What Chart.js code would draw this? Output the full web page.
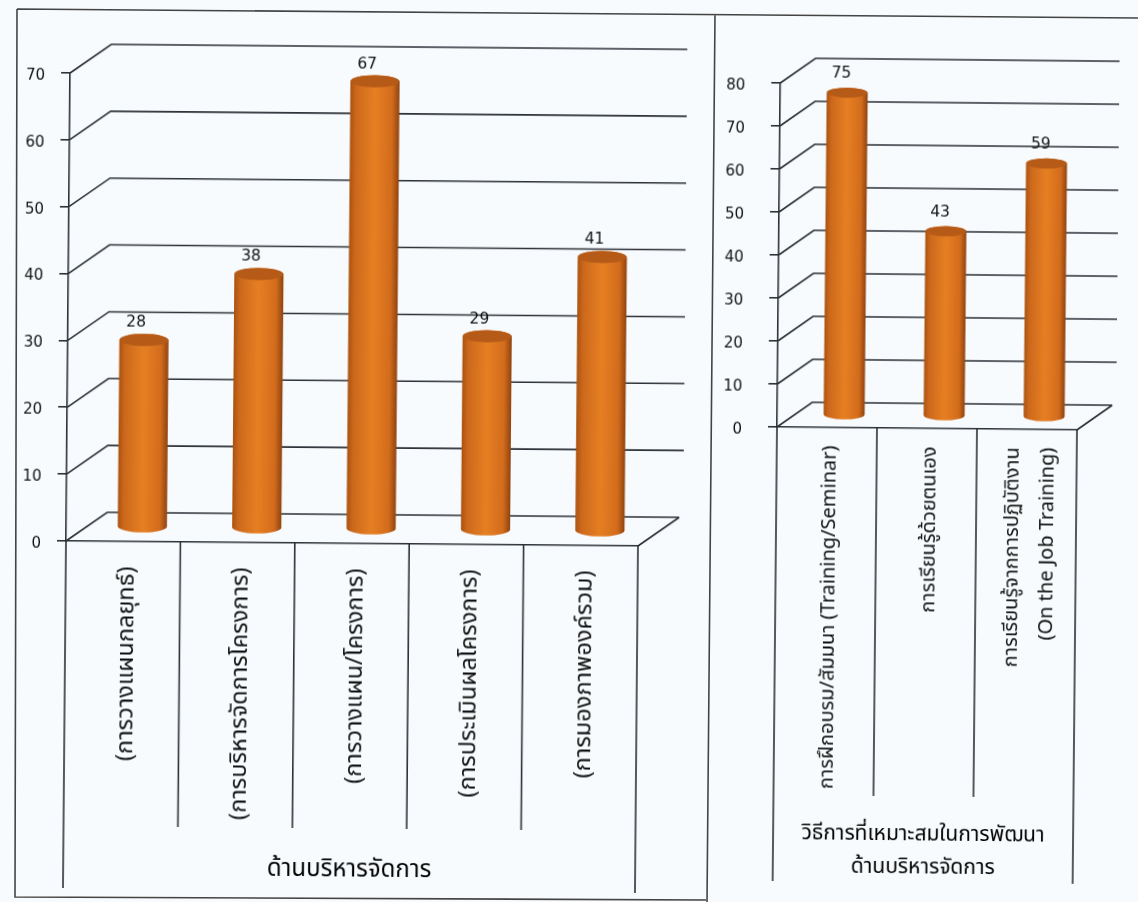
<!DOCTYPE html>
<html lang="th">
  <head>
    <meta charset="UTF-8" />
    <title>ด้านบริหารจัดการ</title>
    <script src="https://cdn.jsdelivr.net/npm/chart.js@4/dist/chart.umd.min.js"></script>
    <style>
      html, body { margin: 0; padding: 0; background: #f8fbfd; overflow: hidden; }
      canvas, svg { position: absolute; left: 0; top: 0; filter: blur(0.4px); }
      #chartLeft { transform-origin: 67px 541px; transform: rotate(0.5deg); }
      #chartRight { transform-origin: 777px 427px; transform: rotate(0.55deg); }
    </style>
  </head>
  <body>
    <svg width="1138" height="902" fill="none" stroke="#444" stroke-width="1.6">
      <path d="M17 9 L1138 18 M17 9 L15 897 L706 900 M715 15 L707 902" />
    </svg>
    <div style="position:absolute;left:0;top:0;width:1138px;height:902px">
      <canvas id="chartLeft"></canvas>
    </div>
    <div style="position:absolute;left:0;top:0;width:1138px;height:902px">
      <canvas id="chartRight"></canvas>
    </div>
    <script>
      const leftCategories = [
        '(การวางแผนกลยุทธ์)',
        '(การบริหารจัดการโครงการ)',
        '(การวางแผน/โครงการ)',
        '(การประเมินผลโครงการ)',
        '(การมองภาพองค์รวม)',
      ]
      const leftValues = [28, 38, 67, 29, 41]
      const leftTitle = 'ด้านบริหารจัดการ'

      const rightCategories = [
        'การฝึกอบรม/สัมมนา (Training/Seminar)',
        'การเรียนรู้ด้วยตนเอง',
        ['การเรียนรู้จากการปฏิบัติงาน', '(On the Job Training)'],
      ]
      const rightValues = [75, 43, 59]
      const rightTitle = ['วิธีการที่เหมาะสมในการพัฒนา', 'ด้านบริหารจัดการ']

      const INK = '#2c3238'
      const FONT = '"DejaVu Sans", "Noto Sans", sans-serif'
      const THAI_FONT = 'Tahoma, "Noto Sans Thai", "Noto Sans", "DejaVu Sans", sans-serif'

      // fake 3D box and cylinder columns, everything hangs off the chart scales
      const box3d = {
        id: 'box3d',
        beforeDraw(chart) {
          // rotated multi-line labels are not centred on the tick by default
          chart.scales.x.getLabelItems().forEach((item) => {
            if (Array.isArray(item.label) && !item.centred) {
              item.textOffset -= ((item.label.length - 1) * item.font.lineHeight) / 2
              item.centred = true
            }
          })
        },
        beforeDatasetsDraw(chart, args, opts) {
          const { ctx, chartArea: a, scales } = chart
          const y = scales.y
          ctx.save()
          ctx.strokeStyle = INK
          ctx.lineWidth = 1.6
          ctx.beginPath()
          y.ticks.forEach((t) => {
            const py = y.getPixelForValue(t.value)
            ctx.moveTo(a.left, py)
            ctx.lineTo(a.left + opts.dx, py - opts.dy)
            ctx.lineTo(a.right + opts.dx + (t.value === 0 ? 0 : 4), py - opts.dy)
          })
          // floor, right edge
          ctx.moveTo(a.right, a.bottom)
          ctx.lineTo(a.right + opts.dx, a.bottom - opts.dy)
          // table cells under the axis
          const n = chart.data.labels.length
          for (let i = 0; i <= n; i++) {
            const px = scales.x.getPixelForValue(i - 0.5)
            ctx.moveTo(px, a.bottom)
            ctx.lineTo(px, i === 0 || i === n ? opts.outerBottom : opts.innerBottom)
          }
          ctx.stroke()
          ctx.restore()
        },
        beforeDatasetDraw(chart, args, opts) {
          const { ctx } = chart
          args.meta.data.forEach((bar, i) => {
            const w = bar.width
            const rx = w / 2
            const ry = w * 0.125
            const cx = bar.x + opts.dx / 2 + opts.barDx
            const top = bar.y - opts.dy / 2
            const bottom = bar.base - opts.dy / 2
            const grad = ctx.createLinearGradient(cx - rx, 0, cx + rx, 0)
            grad.addColorStop(0, '#a9520f')
            grad.addColorStop(0.12, '#cc681c')
            grad.addColorStop(0.5, '#e67f22')
            grad.addColorStop(0.85, '#d26c1c')
            grad.addColorStop(1, '#8f4310')
            ctx.save()
            ctx.fillStyle = grad
            ctx.beginPath()
            ctx.moveTo(cx - rx, top)
            ctx.lineTo(cx - rx, bottom)
            ctx.ellipse(cx, bottom, rx, ry, 0, Math.PI, 0, true)
            ctx.lineTo(cx + rx, top)
            ctx.ellipse(cx, top, rx, ry, 0, 0, Math.PI, true)
            ctx.closePath()
            ctx.fill()
            ctx.fillStyle = '#b65a18'
            ctx.beginPath()
            ctx.ellipse(cx, top, rx - 0.5, ry, 0, 0, Math.PI * 2)
            ctx.fill()
            // value label
            ctx.fillStyle = '#111'
            ctx.font = '15.5px ' + FONT
            ctx.textAlign = 'center'
            ctx.textBaseline = 'middle'
            ctx.fillText(chart.data.datasets[0].data[i], cx + opts.labelDx, top + opts.labelDy)
            ctx.restore()
          })
          return false
        },
      }

      function makeChart(id, categories, values, title, cfg) {
        return new Chart(document.getElementById(id).getContext('2d'), {
          type: 'bar',
          plugins: [box3d],
          data: {
            labels: categories,
            datasets: [{ data: values, backgroundColor: '#e07a1f' }],
          },
          options: {
            responsive: true,
            maintainAspectRatio: false,
            animation: false,
            barPercentage: cfg.barPercentage,
            categoryPercentage: 1,
            layout: { padding: cfg.padding },
            plugins: {
              legend: { display: false },
              tooltip: { enabled: false },
              box3d: cfg.box,
            },
            scales: {
              x: {
                afterFit: (s) => { s.height = cfg.axisHeight },
                grid: { display: false },
                border: { color: INK, width: 1.6 },
                ticks: {
                  autoSkip: false,
                  minRotation: 90,
                  maxRotation: 90,
                  padding: cfg.tickPadding,
                  labelOffset: cfg.tickOffset,
                  color: '#111',
                  font: { family: THAI_FONT, size: cfg.tickSize, lineHeight: 1.75 },
                },
                title: {
                  display: true,
                  text: title,
                  color: '#000',
                  padding: { top: 0, bottom: cfg.titleBottom },
                  font: { family: THAI_FONT, size: cfg.titleSize, lineHeight: 1.55 },
                },
              },
              y: {
                min: 0,
                max: cfg.max,
                afterFit: (s) => { s.width = cfg.axisWidth },
                grid: { drawOnChartArea: false, tickLength: 9, color: INK, lineWidth: 1.6 },
                border: { color: INK, width: 1.6 },
                ticks: {
                  stepSize: 10,
                  padding: cfg.yPadding,
                  labelOffset: 3,
                  color: '#111',
                  font: { family: FONT, size: 15 },
                },
              },
            },
          },
        })
      }

      makeChart('chartLeft', leftCategories, leftValues, leftTitle, {
        max: 70,
        barPercentage: 0.43,
        padding: { left: 0, right: 500, top: 73, bottom: 0 },
        axisWidth: 66,
        axisHeight: 361,
        tickPadding: 17,
        tickOffset: 6,
        tickSize: 23.5,
        titleSize: 24,
        titleBottom: 14,
        yPadding: 16,
        box: { dx: 41, dy: 29, innerBottom: 826, outerBottom: 888, barDx: -1.5, labelDx: -8, labelDy: -17 },
      })

      makeChart('chartRight', rightCategories, rightValues, rightTitle, {
        max: 80,
        barPercentage: 0.41,
        padding: { left: 0, right: 61, top: 83, bottom: 0 },
        axisWidth: 777,
        axisHeight: 475,
        tickPadding: 10,
        tickOffset: 5,
        tickSize: 20,
        titleSize: 21,
        titleBottom: 18,
        yPadding: 26,
        box: { dx: 35, dy: 25, innerBottom: 795, outerBottom: 881, barDx: -0.5, labelDx: -6, labelDy: -19 },
      })
    </script>
  </body>
</html>
